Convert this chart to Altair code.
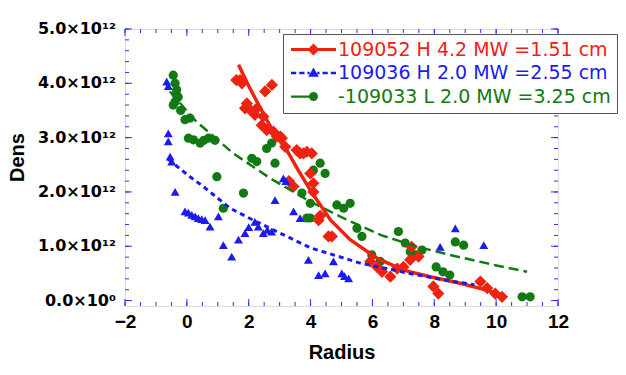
import altair as alt
import pandas as pd

# ---------------- data (Dens in units of 1e12) ----------------
series_names = ["109052 H 4.2 MW =1.51 cm", "109036 H 2.0 MW =2.55 cm", "-109033 L 2.0 MW =3.25 cm"]
series_colors = ["#ee2211", "#1b1bee", "#137a13"]

red_x = [1.60, 1.72, 1.78, 1.88, 1.94, 2.05, 2.20, 2.26, 2.42, 2.47, 2.53, 2.58, 2.75, 2.80, 2.91, 3.02,
         3.07, 3.18, 3.30, 3.45, 3.55, 3.66, 3.77, 3.88, 3.99, 4.04, 4.09, 4.09, 4.26, 4.31, 4.58,
         4.69, 5.93, 6.15, 6.31, 6.58, 6.80, 7.00, 7.22, 7.27, 7.49, 7.97, 8.13, 9.49, 9.71, 9.97, 10.19]
red_y = [4.06, 4.06, 4.00, 3.54, 3.63, 3.51, 3.42, 3.54, 3.23, 3.39, 3.85, 3.14, 3.97, 3.11, 3.02, 3.02,
         2.99, 2.83, 2.20, 2.10, 2.77, 2.71, 2.71, 2.74, 2.34, 2.71, 2.16, 2.00, 1.48, 1.56, 1.18,
         1.18, 0.72, 0.62, 0.53, 0.44, 0.59, 0.62, 0.75, 0.99, 0.81, 0.26, 0.13, 0.35, 0.23, 0.13, 0.07]

blue_x = [-0.65, -0.60, -0.60, -0.60, -0.54, -0.49, -0.38, -0.06, 0.05, 0.16, 0.27, 0.37, 0.48, 0.59,
          0.75, 1.02, 1.18, 1.45, 1.67, 1.88, 2.00, 2.20, 2.31, 2.47, 2.60, 2.74, 2.85, 3.12, 3.20,
          3.45, 3.66, 3.93, 4.26, 4.47, 4.74, 5.01, 5.10, 5.23, 8.19, 8.68, 9.60]
blue_y = [4.03, 3.95, 3.08, 2.93, 2.65, 2.56, 2.00, 1.64, 1.62, 1.58, 1.55, 1.52, 1.50, 1.48,
          1.36, 1.55, 1.02, 0.81, 1.12, 1.24, 1.35, 1.45, 1.36, 1.24, 1.30, 1.27, 1.85, 2.25, 2.20,
          1.64, 1.52, 0.75, 0.47, 0.50, 0.72, 0.50, 0.45, 0.41, 0.99, 1.33, 1.02]

green_x = [-0.44, -0.38, -0.35, -0.33, -0.28, -0.38, -0.44, -0.20, -0.06, 0.10, 0.05, 0.21, 0.43,
           0.55, 0.70, 0.91, 0.97, 1.18, 1.83, 2.10, 2.26, 2.58, 2.74, 2.85, 3.72, 3.88, 3.99, 3.99,
           4.09, 4.31, 4.47, 4.85, 5.07, 5.28, 5.50, 5.66, 5.98, 6.25, 6.84, 7.06, 7.22, 7.39, 7.60,
           8.06, 8.28, 8.50, 8.68, 8.95, 10.84, 11.10]
green_y = [4.15, 4.00, 3.80, 3.88, 3.75, 3.66, 3.60, 3.50, 3.33, 3.36, 2.99, 2.96, 2.90,
           2.95, 2.99, 2.95, 2.28, 1.70, 1.98, 2.62, 2.56, 2.80, 2.90, 2.53, 1.98, 1.52, 1.79, 1.52,
           2.40, 2.53, 2.34, 1.76, 1.70, 1.79, 1.33, 1.18, 0.84, 0.72, 1.27, 1.06, 0.90, 0.84, 0.93,
           0.62, 0.53, 0.47, 1.08, 1.02, 0.07, 0.07]

red_fit_x = [1.67, 2.0, 2.42, 2.8, 3.23, 3.6, 4.03, 4.65, 5.28, 6.15, 7.0, 7.87, 8.84, 9.5, 10.23]
red_fit_y = [4.34, 3.95, 3.5, 3.1, 2.77, 2.4, 2.0, 1.48, 1.12, 0.78, 0.56, 0.44, 0.32, 0.22, 0.10]

blue_fit_x = [-0.6, 0.1, 0.53, 1.4, 2.15, 3.02, 4.0, 5.6, 7.2, 8.3, 9.3]
blue_fit_y = [2.6, 2.28, 2.1, 1.7, 1.48, 1.24, 0.97, 0.69, 0.5, 0.38, 0.29]

green_fit_x = [-0.55, 0.3, 1.5, 2.7, 3.9, 5.2, 6.3, 7.4, 8.5, 9.9, 11.0]
green_fit_y = [3.85, 3.3, 2.71, 2.25, 1.85, 1.48, 1.2, 1.0, 0.84, 0.66, 0.53]

x_major = [-2, 0, 2, 4, 6, 8, 10, 12]
x_minor = [v / 2 for v in range(-4, 25)]
y_major = [0, 1, 2, 3, 4, 5]
y_minor = [v / 5 for v in range(0, 26)]

# ---------------- styling ----------------
BLUE = "#2f2fff"
FONT = "DejaVu Sans"
W, H = 433, 277

label_x_axis = alt.Axis(values=x_major, format="d", ticks=False, domain=False,
                        grid=False, title="Radius", labelFlush=False, labelPadding=6,
                        labelFontSize=19, labelFontWeight="bold",
                        titleFontSize=20, titleFontWeight="bold",
                        titleY=46, titleBaseline="middle")
label_y_axis = alt.Axis(values=y_major, ticks=False, domain=False, grid=False,
                        labels=False, labelExpr="''",
                        title="Dens", titleFontSize=20, titleFontWeight="bold",
                        titleX=-108, titleY=128, titleBaseline="middle", titleAlign="center")


def X(field):
    return alt.X(field, scale=alt.Scale(domain=[-2, 12], nice=False, zero=False), axis=label_x_axis)


def Y(field):
    return alt.Y(field, scale=alt.Scale(domain=[-0.1, 5.0], nice=False, zero=False), axis=label_y_axis)


legend_paths = [
    "M-3,-0.2H3V0.2H-3Z M0,-0.8L0.8,0L0,0.8L-0.8,0Z",
    "M-3,-0.17H-2.3V0.17H-3Z M-1.9,-0.17H-1.2V0.17H-1.9Z M-0.8,-0.17H-0.5V0.17H-0.8Z "
    "M0.5,-0.17H0.8V0.17H0.5Z M1.2,-0.17H1.9V0.17H1.2Z M2.3,-0.17H3V0.17H2.3Z "
    "M0,-0.75L0.7,0.5L-0.7,0.5Z",
    "M-3,-0.15H0V0.15H-3Z M0.6,0A0.6,0.6 0 1,1 -0.6,0A0.6,0.6 0 1,1 0.6,0Z",
]


def frame(xv, yv):
    return pd.DataFrame({"x": xv, "y": yv})


# inward frame ticks (IDL style), drawn from the tick value lists through the scales
def xticks(values, length, at_top):
    return alt.Chart(pd.DataFrame({"v": values})).mark_tick(
        orient="vertical", color=BLUE, thickness=1, size=length, opacity=1
    ).encode(x=X("v:Q"), y=alt.value(length / 2 if at_top else H - length / 2))


def yticks(values, length, at_right):
    return alt.Chart(pd.DataFrame({"v": values})).mark_tick(
        orient="horizontal", color=BLUE, thickness=1, size=length, opacity=1
    ).encode(y=Y("v:Q"), x=alt.value(W - length / 2 if at_right else length / 2))


tick_layers = [xticks(x_major, 7, False), xticks(x_minor, 4, False),
               xticks(x_major, 7, True), xticks(x_minor, 4, True),
               yticks(y_major, 7, False), yticks(y_minor, 4, False),
               yticks(y_major, 7, True), yticks(y_minor, 4, True)]

# y tick labels in IDL exponent style, placed through the y scale
ylabels = alt.Chart(pd.DataFrame({"v": y_major})).transform_calculate(
    lab="datum.v == 0 ? '0.0×10⁰' : format(datum.v, '.1f') + '×10¹²'"
).mark_text(
    align="right", baseline="middle", font=FONT, fontSize=16, fontWeight="bold", color="black"
).encode(y=Y("v:Q"), x=alt.value(-9), text="lab:N")

gpts = alt.Chart(frame(green_x, green_y)).mark_point(
    shape="circle", filled=True, size=85, color=series_colors[2], opacity=1
).encode(x=X("x:Q"), y=Y("y:Q"))

rpts = alt.Chart(frame(red_x, red_y)).mark_point(
    shape="diamond", filled=True, size=150, color=series_colors[0], opacity=1
).encode(x=X("x:Q"), y=Y("y:Q"))

bpts = alt.Chart(frame(blue_x, blue_y)).mark_point(
    shape="triangle-up", filled=True, size=80, color=series_colors[1], opacity=1
).encode(x=X("x:Q"), y=Y("y:Q"))

gline = alt.Chart(frame(green_fit_x, green_fit_y)).mark_line(
    color=series_colors[2], strokeWidth=2.5, strokeDash=[10, 5]
).encode(x=X("x:Q"), y=Y("y:Q"))

rline = alt.Chart(frame(red_fit_x, red_fit_y)).mark_line(
    color=series_colors[0], strokeWidth=3.5
).encode(x=X("x:Q"), y=Y("y:Q"))

bline = alt.Chart(frame(blue_fit_x, blue_fit_y)).mark_line(
    color=series_colors[1], strokeWidth=3, strokeDash=[5, 4]
).encode(x=X("x:Q"), y=Y("y:Q"))

legend_layer = alt.Chart(pd.DataFrame({"series": series_names})).transform_filter("false").mark_point(
    filled=True, opacity=1
).encode(
    color=alt.Color("series:N", scale=alt.Scale(domain=series_names, range=series_colors),
                    legend=alt.Legend(title=None, orient="none", legendX=158, legendY=5,
                                      symbolSize=225, symbolOffset=15, labelOffset=15,
                                      labelFont=FONT, labelFontSize=19, labelLimit=400,
                                      labelColor=alt.ExprRef(expr="scale('color', datum.value)"),
                                      padding=6, rowPadding=3.5, strokeColor="#555555",
                                      fillColor="white", symbolStrokeWidth=0)),
    shape=alt.Shape("series:N", scale=alt.Scale(domain=series_names, range=legend_paths),
                    legend=alt.Legend(title=None, orient="none", legendX=158, legendY=5)),
)

chart = alt.layer(gpts, *tick_layers, ylabels, rpts, bpts, gline, rline, bline, legend_layer).properties(
    width=W, height=H, autosize="none",
    padding={"left": 125, "top": 29, "right": 68, "bottom": 69},
).configure_view(
    stroke=BLUE, strokeDash=[2, 1.5], strokeWidth=1.5
).configure_axis(
    labelFont=FONT, titleFont=FONT, labelColor="black", titleColor="black"
).configure_axisX(
    labelFontSize=19, labelFontWeight="bold", labelPadding=6
).configure_legend(
    strokeDash=[2, 1], strokeWidth=1.5
).configure(background="white")

chart.save("out.html", embed_options={"renderer": "svg", "actions": False})
